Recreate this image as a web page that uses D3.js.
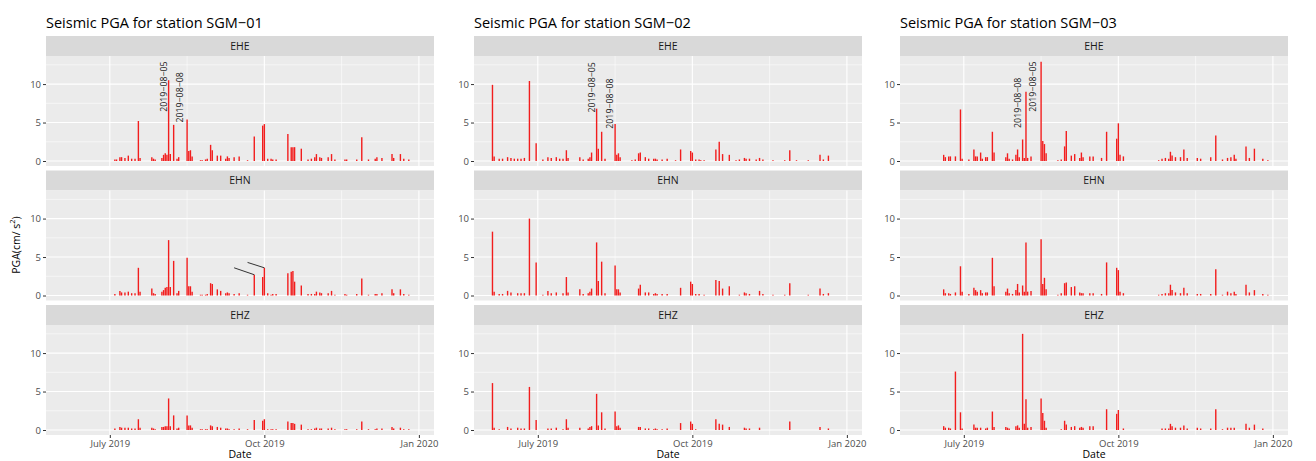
<!DOCTYPE html>
<html>
<head>
<meta charset="utf-8">
<script src="https://cdn.jsdelivr.net/npm/d3@7"></script>
<style>
  body { margin: 0; background: #ffffff; }
  svg { display: block; font-family: "Open Sans", "Noto Sans", sans-serif; }
</style>
</head>
<body>
<svg id="chart" width="1316" height="461"></svg>
<script>
// ---- data -------------------------------------------------------------
const stations = ["SGM−01", "SGM−02", "SGM−03"];
const components = ["EHE", "EHN", "EHZ"];

const xDomain = ["2019-05-24", "2020-01-10"];
const yDomain = [-0.65, 13.65];
const xTickDates = ["2019-07-01", "2019-10-01", "2020-01-01"];
const xTickLabels = ["July 2019", "Oct 2019", "Jan 2020"];
const xMinorDates = ["2019-08-16", "2019-11-16"];
const yTicks = [0, 5, 10];
const yMinor = [2.5, 7.5, 12.5];

// SGM-01 daily peak ground acceleration (cm/s²)
const sgm01Dates = ["2019-07-04","2019-07-05","2019-07-07","2019-07-08","2019-07-10","2019-07-12","2019-07-14","2019-07-16","2019-07-18","2019-07-19","2019-07-26","2019-07-27","2019-07-28","2019-08-01","2019-08-02","2019-08-03","2019-08-04","2019-08-05","2019-08-06","2019-08-08","2019-08-10","2019-08-11","2019-08-16","2019-08-17","2019-08-18","2019-08-19","2019-08-24","2019-08-25","2019-08-27","2019-08-28","2019-08-30","2019-08-31","2019-09-03","2019-09-05","2019-09-08","2019-09-09","2019-09-10","2019-09-13","2019-09-16","2019-09-21","2019-09-25","2019-09-30","2019-10-01","2019-10-03","2019-10-05","2019-10-06","2019-10-08","2019-10-15","2019-10-17","2019-10-18","2019-10-19","2019-10-23","2019-10-27","2019-10-29","2019-10-31","2019-11-01","2019-11-03","2019-11-04","2019-11-08","2019-11-10","2019-11-12","2019-11-18","2019-11-19","2019-11-25","2019-11-28","2019-12-02","2019-12-06","2019-12-07","2019-12-10","2019-12-16","2019-12-17","2019-12-21","2019-12-23","2019-12-26"];
const sgm01EHE = [0.2,0.2,0.5,0.5,0.4,0.7,0.3,0.3,5.2,0.4,0.5,0.3,0.2,0.4,0.8,1.0,0.8,10.5,0.9,4.7,0.3,0.5,5.4,1.3,1.4,0.6,0.1,0.1,0.2,0.3,2.1,1.4,0.7,0.7,0.3,0.6,0.4,0.5,0.6,0.1,3.2,4.6,4.8,0.3,0.3,0.2,0.2,3.5,1.8,1.8,1.8,1.6,0.2,0.3,0.5,0.9,0.5,0.4,0.5,0.9,0.2,0.2,0.2,0.2,3.1,0.2,0.3,0.5,0.4,0.9,0.4,0.9,0.3,0.2];
const sgm01EHN = [0.2,0,0.6,0.4,0.4,0.5,0.3,0.3,3.6,0.5,0.9,0.3,0.2,0.5,0.7,1.0,1.1,7.2,1.1,4.5,0.3,0.6,4.9,1.2,1.2,0.5,0.1,0.1,0.1,0.2,1.6,1.5,0.8,0.6,0.3,0.4,0.3,0.2,0.3,0.1,2.7,2.4,3.6,0.3,0.1,0.2,0.2,2.9,3.1,3.2,1.8,1.3,0.2,0.2,0.2,0.5,0.4,0.3,0.3,0.6,0.1,0.2,0.1,0.2,2.2,0.1,0.2,0.2,0.3,0.8,0.3,0.8,0.2,0.1];
const sgm01EHZ = [0.2,0,0.4,0.3,0.3,0.3,0.2,0.2,1.4,0.3,0.3,0.2,0.1,0.4,0.4,0.5,0.5,4.1,0.5,1.9,0.2,0.3,1.9,0.6,0.6,0.3,0.1,0.1,0.1,0.1,0.6,0.5,0.4,0.3,0.2,0.2,0.1,0.1,0.2,0.1,1.3,1.2,1.4,0.1,0.1,0.1,0.1,1.1,0.9,0.9,0.8,0.7,0.1,0.1,0.2,0.3,0.2,0.2,0.2,0.3,0.1,0.1,0.1,0.1,1.1,0.1,0.1,0.2,0.2,0.4,0.2,0.3,0.1,0.1];

// SGM-02
const sgm02Dates = ["2019-06-04","2019-06-05","2019-06-08","2019-06-10","2019-06-13","2019-06-15","2019-06-17","2019-06-19","2019-06-21","2019-06-23","2019-06-26","2019-06-30","2019-07-04","2019-07-07","2019-07-09","2019-07-12","2019-07-14","2019-07-16","2019-07-18","2019-07-19","2019-07-26","2019-07-28","2019-07-31","2019-08-01","2019-08-02","2019-08-05","2019-08-06","2019-08-08","2019-08-10","2019-08-16","2019-08-17","2019-08-18","2019-08-19","2019-08-26","2019-08-28","2019-08-30","2019-08-31","2019-09-03","2019-09-05","2019-09-08","2019-09-09","2019-09-10","2019-09-13","2019-09-16","2019-09-21","2019-09-24","2019-09-30","2019-10-01","2019-10-03","2019-10-05","2019-10-06","2019-10-08","2019-10-15","2019-10-17","2019-10-19","2019-10-23","2019-10-27","2019-10-29","2019-11-01","2019-11-02","2019-11-04","2019-11-08","2019-11-10","2019-11-12","2019-11-18","2019-11-25","2019-11-28","2019-12-02","2019-12-09","2019-12-16","2019-12-18","2019-12-21"];
const sgm02EHE = [9.9,0.6,0.3,0.3,0.5,0.4,0.3,0.3,0.3,0.4,10.4,2.3,0.2,0.5,0.4,0.5,0.3,0.3,1.4,0.4,0.5,0.2,0.3,0.5,1.1,6.8,1.6,3.8,0.3,4.8,0.8,1.0,0.5,0.1,0.2,1.0,1.1,0.5,0.3,0.3,0.3,0.2,0.2,0.3,0.1,1.5,1.3,1.1,0.2,0.2,0.1,0.1,1.5,2.5,0.9,0.8,0.1,0.2,0.4,0.3,0.3,0.2,0.4,0.2,0.1,0.1,1.4,0.1,0.1,0.8,0.2,0.7];
const sgm02EHN = [8.3,0.5,0.2,0.2,0.6,0.4,0,0.3,0.3,0.3,10.0,4.3,0.1,0.6,0.3,0.4,0,0.3,2.4,0.4,0.8,0.2,0.3,0.5,0.9,6.9,1.9,4.4,0.3,3.9,0.8,0.8,0.4,0,0,0.9,1.4,0.4,0.4,0.2,0.3,0.2,0.2,0.2,0,1.0,1.8,1.5,0.2,0.2,0,0.1,2.0,1.9,0.9,1.2,0,0.1,0.4,0.3,0.2,0,0.6,0.2,0.1,0.1,1.6,0,0.1,0.9,0.2,0.3];
const sgm02EHZ = [6.1,0.3,0.1,0,0.4,0.2,0,0.3,0.2,0.2,5.6,1.3,0,0.2,0.2,0.3,0,0.1,1.4,0.3,0.3,0,0.2,0.4,0.5,4.7,0.6,2.3,0.2,2.4,0.5,0.6,0.3,0,0,0.4,0.4,0.2,0.2,0.1,0.2,0.1,0.1,0.2,0,0.9,1.1,0.8,0.1,0,0,0,1.4,0.8,0.7,0.4,0,0,0.3,0.2,0.2,0,0.3,0,0,0,1.1,0,0,0.4,0,0.2];

// SGM-03
const sgm03Dates = ["2019-06-19","2019-06-20","2019-06-22","2019-06-23","2019-06-26","2019-06-29","2019-06-30","2019-07-04","2019-07-07","2019-07-08","2019-07-09","2019-07-11","2019-07-12","2019-07-14","2019-07-15","2019-07-18","2019-07-19","2019-07-26","2019-07-27","2019-07-28","2019-07-30","2019-08-01","2019-08-02","2019-08-03","2019-08-05","2019-08-06","2019-08-07","2019-08-08","2019-08-10","2019-08-16","2019-08-17","2019-08-18","2019-08-19","2019-08-26","2019-08-28","2019-08-30","2019-08-31","2019-09-03","2019-09-05","2019-09-08","2019-09-09","2019-09-10","2019-09-14","2019-09-16","2019-09-21","2019-09-24","2019-09-30","2019-10-01","2019-10-02","2019-10-04","2019-10-25","2019-10-27","2019-10-29","2019-10-31","2019-11-01","2019-11-02","2019-11-04","2019-11-07","2019-11-09","2019-11-11","2019-11-17","2019-11-19","2019-11-25","2019-11-28","2019-12-02","2019-12-05","2019-12-07","2019-12-09","2019-12-10","2019-12-16","2019-12-18","2019-12-21","2019-12-26","2019-12-29"];
const sgm03EHE = [0.8,0.5,0.6,0.6,0.6,6.7,0.3,0.2,1.5,0.6,0.6,1.1,0.3,0.5,0.5,3.8,1.1,0.5,1.0,0.3,0.2,0.8,1.5,0.5,2.8,0.4,9.0,0.4,0.6,12.9,2.6,2.2,1.0,0.1,0.2,1.9,3.9,0.7,0.9,0.4,1.1,0.5,0.6,0.6,0.4,3.8,2.9,4.9,0.8,0.6,0.1,0.3,0.4,0.3,1.2,0.7,0.5,0.5,1.5,0.4,0.4,0.3,0.5,3.3,0.2,0.4,0.5,0.8,0.3,1.9,0.4,1.6,0.3,0.1];
const sgm03EHN = [0.8,0.3,0.3,0.2,0.4,3.8,0.5,0.2,1.0,0.7,0.5,0.7,0.3,0.4,0.4,4.9,1.2,0.5,0.9,0.3,0.2,0.7,1.5,0.4,1.3,0.5,6.9,0.5,0.6,7.3,1.5,2.3,0.8,0.1,0.3,1.6,1.7,1.1,1.2,0.4,0.3,0.3,0.3,0.3,0.2,4.3,3.6,3.3,0.5,0.3,0.1,0.2,0.3,0.3,1.4,0.7,0.4,0.3,1.0,0.3,0.2,0.2,0.2,3.4,0.1,0.5,0.3,0.5,0.2,1.4,0.4,0.7,0.2,0.1];
const sgm03EHZ = [0.5,0.3,0.3,0.2,7.6,2.3,0.2,0,0.7,0.3,0.3,0.3,0,0.2,0.3,2.4,0.4,0.4,0.3,0.2,0,0.5,0.6,0.3,12.5,0.8,4.0,0.3,0.4,4.1,2.2,1.2,0.3,0,0.1,1.2,0.7,0.4,0.5,0.3,0.4,0.3,0.5,0.5,0,2.7,2.1,2.6,0,0.2,0,0.2,0.2,0.2,0.8,0.5,0.3,0.3,0.6,0.2,0.3,0.2,0.2,2.7,0.1,0.3,0.3,0.3,0,0.8,0.3,0.7,0.2,0];

// Event labels shown in the EHE facet (date / value where the text starts)
const sgm01Labels = [{ text: "2019−08−05", date: "2019-08-02", value: 6.4 }, { text: "2019−08−08", date: "2019-08-12", value: 5.0 }];
const sgm02Labels = [{ text: "2019−08−05", date: "2019-08-02", value: 6.3 }, { text: "2019−08−08", date: "2019-08-13", value: 4.2 }];
const sgm03Labels = [{ text: "2019−08−08", date: "2019-08-02", value: 4.3 }, { text: "2019−08−05", date: "2019-08-11", value: 6.4 }];

// Leader segments in the SGM-01 EHN facet
const sgm01Leaders = [
  { x0: "2019-09-13", y0: 3.6, x1: "2019-09-25", y1: 2.7 },
  { x0: "2019-09-21", y0: 4.3, x1: "2019-10-01", y1: 3.6 }
];

// ---- assemble ----------------------------------------------------------
const parse = d3.utcParse("%Y-%m-%d");
function series(dates, vals) { return dates.map((d, i) => ({ date: parse(d), value: vals[i] })); }
const stationData = [
  { name: stations[0], EHE: series(sgm01Dates, sgm01EHE), EHN: series(sgm01Dates, sgm01EHN), EHZ: series(sgm01Dates, sgm01EHZ), labels: sgm01Labels, leaders: sgm01Leaders, yTitle: true },
  { name: stations[1], EHE: series(sgm02Dates, sgm02EHE), EHN: series(sgm02Dates, sgm02EHN), EHZ: series(sgm02Dates, sgm02EHZ), labels: sgm02Labels, leaders: [], yTitle: false },
  { name: stations[2], EHE: series(sgm03Dates, sgm03EHE), EHN: series(sgm03Dates, sgm03EHN), EHZ: series(sgm03Dates, sgm03EHZ), labels: sgm03Labels, leaders: [], yTitle: false }
];

// ---- layout ------------------------------------------------------------
const panelLeft = [46, 474, 900];
const panelWidth = 388;
const stripTop = [36, 170.5, 305];
const stripH = 20;
const plotH = 110;

const svg = d3.select("#chart");
svg.append("rect").attr("width", 1316).attr("height", 461).attr("fill", "#ffffff");

stationData.forEach((st, si) => {
  const left = panelLeft[si];
  const x = d3.scaleUtc().domain(xDomain.map(parse)).range([left, left + panelWidth]);
  const g = svg.append("g");

  g.append("text")
    .attr("x", left).attr("y", 27.5)
    .attr("font-size", 14.5).attr("fill", "#000000")
    .text("Seismic PGA for station " + st.name);

  components.forEach((comp, ci) => {
    const top = stripTop[ci] + stripH;
    const y = d3.scaleLinear().domain(yDomain).range([top + plotH, top]);

    // facet strip
    g.append("rect").attr("x", left).attr("y", stripTop[ci]).attr("width", panelWidth).attr("height", stripH).attr("fill", "#d9d9d9");
    g.append("text").attr("x", left + panelWidth / 2).attr("y", stripTop[ci] + stripH / 2)
      .attr("dy", "0.36em").attr("text-anchor", "middle").attr("font-size", 10.5).attr("fill", "#1a1a1a").text(comp);

    // panel background + grid
    g.append("rect").attr("x", left).attr("y", top).attr("width", panelWidth).attr("height", plotH).attr("fill", "#ebebeb");
    const grid = g.append("g").attr("stroke", "#ffffff");
    grid.selectAll(".ymin").data(yMinor).join("line")
      .attr("x1", left).attr("x2", left + panelWidth).attr("y1", d => y(d)).attr("y2", d => y(d)).attr("stroke-width", 0.55);
    grid.selectAll(".xmin").data(xMinorDates.map(parse)).join("line")
      .attr("x1", d => x(d)).attr("x2", d => x(d)).attr("y1", top).attr("y2", top + plotH).attr("stroke-width", 0.55);
    grid.selectAll(".ymaj").data(yTicks).join("line")
      .attr("x1", left).attr("x2", left + panelWidth).attr("y1", d => y(d)).attr("y2", d => y(d)).attr("stroke-width", 1.1);
    grid.selectAll(".xmaj").data(xTickDates.map(parse)).join("line")
      .attr("x1", d => x(d)).attr("x2", d => x(d)).attr("y1", top).attr("y2", top + plotH).attr("stroke-width", 1.1);

    // PGA spikes
    g.append("g").selectAll("line").data(st[comp].filter(d => d.value > 0)).join("line")
      .attr("x1", d => x(d.date)).attr("x2", d => x(d.date))
      .attr("y1", y(0)).attr("y2", d => y(d.value))
      .attr("stroke", "#f21d1d").attr("stroke-width", 1.4);

    // y axis
    const ya = g.append("g").attr("transform", `translate(${left},0)`)
      .call(d3.axisLeft(y).tickValues(yTicks).tickSize(3).tickPadding(2));
    ya.select(".domain").remove();
    ya.selectAll(".tick line").attr("stroke", "#333333");
    ya.selectAll(".tick text").attr("fill", "#4d4d4d").attr("font-size", 9.5).attr("font-family", "Open Sans, sans-serif");

    if (ci === 0) {
      st.labels.forEach(l => {
        g.append("text")
          .attr("transform", `translate(${x(parse(l.date))},${y(l.value)}) rotate(-90)`)
          .attr("dy", "0.35em").attr("font-size", 8.8).attr("fill", "#1a1a1a")
          .text(l.text);
      });
    }
    if (ci === 1) {
      g.append("g").selectAll("line").data(st.leaders).join("line")
        .attr("x1", d => x(parse(d.x0))).attr("y1", d => y(d.y0))
        .attr("x2", d => x(parse(d.x1))).attr("y2", d => y(d.y1))
        .attr("stroke", "#333333").attr("stroke-width", 1);
    }
    if (ci === 2) {
      const xa = g.append("g").attr("transform", `translate(0,${top + plotH})`)
        .call(d3.axisBottom(x).tickValues(xTickDates.map(parse)).tickSize(3).tickPadding(2.5)
          .tickFormat((d, i) => xTickLabels[i]));
      xa.select(".domain").remove();
      xa.selectAll(".tick line").attr("stroke", "#333333");
      xa.selectAll(".tick text").attr("fill", "#4d4d4d").attr("font-size", 9.5).attr("font-family", "Open Sans, sans-serif");
      g.append("text").attr("x", left + panelWidth / 2).attr("y", 457.5)
        .attr("text-anchor", "middle").attr("font-size", 10.5).attr("fill", "#000000").text("Date");
    }
  });

  if (st.yTitle) {
    const t = g.append("text").attr("transform", "translate(20,245) rotate(-90)")
      .attr("text-anchor", "middle").attr("font-size", 10.5).attr("fill", "#000000");
    t.append("tspan").text("PGA(cm/ s");
    t.append("tspan").attr("baseline-shift", "super").attr("font-size", 7.5).text("2");
    t.append("tspan").text(")");
  }
});
</script>
</body>
</html>
